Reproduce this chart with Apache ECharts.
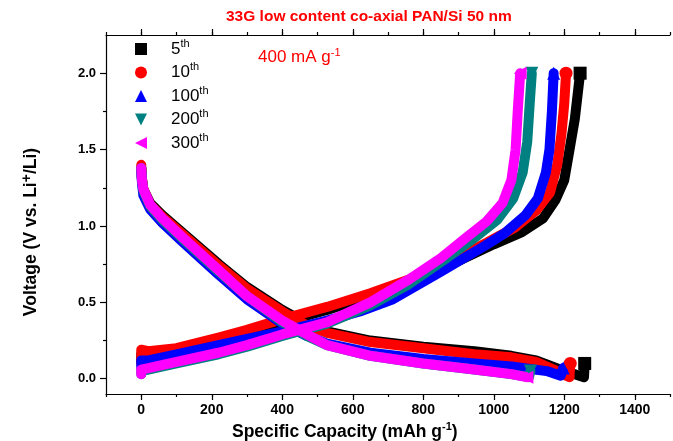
<!DOCTYPE html>
<html>
<head>
<meta charset="utf-8">
<script src="https://cdn.jsdelivr.net/npm/echarts@6/dist/echarts.min.js"></script>
<style>
html,body{margin:0;padding:0;background:#fff;}
#chart{width:673px;height:441px;}
</style>
</head>
<body>
<div id="chart"></div>
<script>
// Galvanostatic discharge / charge profiles, [capacity (mAh/g), voltage (V)]
const cycleNames = ['5th', '10th', '100th', '200th', '300th'];

const dis5 = [[0,1.38],[2,1.31],[6,1.24],[25,1.15],[60,1.07],[115,0.96],[220,0.75],[300,0.6],[400,0.45],[470,0.36],[527,0.31],[650,0.25],[800,0.21],[945,0.18],[1050,0.15],[1120,0.12],[1177,0.07],[1230,0.03],[1256,0.01],[1258,0.1]];
const dis10 = [[0,1.40],[2,1.31],[6,1.24],[25,1.14],[60,1.06],[115,0.95],[220,0.74],[300,0.59],[400,0.44],[470,0.35],[527,0.3],[650,0.24],[800,0.2],[945,0.16],[1050,0.14],[1120,0.11],[1170,0.06],[1205,0.02],[1215,0.01],[1217,0.1]];
const dis100 = [[0,1.36],[2,1.28],[6,1.2],[25,1.11],[60,1.02],[115,0.9],[220,0.68],[300,0.52],[400,0.36],[470,0.28],[527,0.23],[650,0.17],[800,0.13],[945,0.1],[1050,0.08],[1150,0.05],[1190,0.02],[1197,0.07]];
const dis200 = [[0,1.38],[2,1.3],[6,1.23],[25,1.13],[60,1.04],[115,0.92],[220,0.7],[300,0.54],[400,0.37],[470,0.28],[527,0.22],[650,0.15],[800,0.1],[945,0.06],[1050,0.03],[1100,0.01],[1104,0.05]];
const dis300 = [[0,1.38],[2,1.3],[6,1.24],[25,1.14],[60,1.05],[115,0.93],[220,0.71],[300,0.54],[400,0.38],[470,0.29],[527,0.22],[650,0.15],[800,0.1],[945,0.06],[1050,0.03],[1094,0.01]];

const ch5 = [[0,0.11],[0,0.16],[20,0.16],[100,0.18],[219,0.25],[300,0.3],[400,0.37],[527,0.45],[650,0.54],[760,0.63],[880,0.75],[1000,0.88],[1080,0.96],[1140,1.05],[1175,1.17],[1200,1.3],[1215,1.5],[1230,1.7],[1245,2.0]];
const ch10 = [[0,0.1],[0,0.19],[20,0.18],[100,0.2],[219,0.27],[300,0.32],[400,0.39],[527,0.47],[650,0.56],[760,0.65],[870,0.76],[980,0.89],[1060,0.99],[1120,1.1],[1160,1.22],[1180,1.4],[1192,1.6],[1200,1.8],[1205,2.0]];
const ch100 = [[0,0.07],[0,0.12],[20,0.12],[100,0.16],[219,0.22],[300,0.26],[400,0.31],[527,0.38],[620,0.44],[714,0.52],[850,0.7],[975,0.87],[1030,0.95],[1090,1.07],[1125,1.18],[1148,1.35],[1158,1.5],[1165,1.75],[1170,2.0]];
const ch200 = [[0,0.03],[0,0.05],[20,0.06],[100,0.1],[219,0.16],[300,0.21],[400,0.28],[527,0.36],[650,0.48],[760,0.62],[860,0.78],[950,0.93],[1010,1.04],[1055,1.18],[1082,1.35],[1095,1.55],[1102,1.8],[1108,2.0]];
const ch300 = [[0,0.03],[0,0.06],[20,0.07],[100,0.11],[219,0.17],[300,0.22],[400,0.29],[527,0.37],[650,0.5],[760,0.65],[850,0.79],[920,0.92],[980,1.03],[1025,1.15],[1050,1.3],[1062,1.5],[1068,1.75],[1075,2.0]];

const discharge = [dis5, dis10, dis100, dis200, dis300];
const charge = [ch5, ch10, ch100, ch200, ch300];

// Axis ticks
const xMajorTicks = [0, 200, 400, 600, 800, 1000, 1200, 1400];
const yMajorTicks = [0, 0.5, 1.0, 1.5, 2.0];
const yMinorTicks = [0.25, 0.75, 1.25, 1.75];

const FONT = 'Arial, "Liberation Sans", sans-serif';
const colors = ['#000000', '#FF0000', '#0000FF', '#008080', '#FF00FF'];
const symbols = ['rect', 'circle', 'triangle', 'path://M0,0L10,0L5,10Z', 'path://M10,0L10,10L0,5Z'];

const chart = echarts.init(document.getElementById('chart'), null, { renderer: 'canvas' });

const series = [];
cycleNames.forEach((name, i) => {
  [discharge[i], charge[i]].forEach(curve => {
    const last = curve.length - 1;
    series.push({
      type: 'line',
      name: name,
      data: curve,
      xAxisIndex: 0,
      yAxisIndex: 0,
      color: colors[i],
      symbol: symbols[i],
      showAllSymbol: true,
      symbolSize: (v, p) => (p.dataIndex === last ? 13 : 0),
      itemStyle: { color: colors[i] },
      lineStyle: { color: colors[i], width: 10, cap: 'round', join: 'round' },
      emphasis: { disabled: true },
      silent: true,
      animation: false
    });
  });
});

const axisLineStyle = { color: '#000', width: 1.2 };
const xRange = { min: -100, max: 1500 };
const yRange = { min: -0.1, max: 2.25 };

const option = {
  backgroundColor: '#fff',
  animation: false,
  grid: { left: 106, top: 35, width: 572.6, height: 359 },
  legend: {
    orient: 'vertical',
    left: 130,
    top: 33,
    itemWidth: 12,
    itemHeight: 12,
    itemGap: 4,
    selectedMode: false,
    data: cycleNames.map((n, i) => ({ name: n, icon: symbols[i], itemStyle: { color: colors[i] } })),
    formatter: name => {
      const m = name.match(/^(\d+)(th)$/);
      return '{g|}{n|' + m[1] + '}{s|' + m[2] + '}';
    },
    textStyle: {
      rich: {
        g: { width: 19 },
        n: { fontFamily: FONT, fontSize: 17, color: '#000', lineHeight: 22 },
        s: { fontFamily: FONT, fontSize: 11, color: '#000', verticalAlign: 'top', lineHeight: 11 }
      }
    }
  },
  xAxis: [
    {
      type: 'value', position: 'bottom', ...xRange, interval: 100,
      axisLine: { show: true, onZero: false, lineStyle: axisLineStyle },
      axisTick: { show: true, length: 3, lineStyle: axisLineStyle },
      axisLabel: {
        margin: 9, color: '#000', fontFamily: FONT, fontWeight: 'bold', fontSize: 14,
        formatter: v => (v >= 0 && v % 200 === 0 ? String(v) : '')
      },
      splitLine: { show: false }
    },
    {
      type: 'value', position: 'bottom', ...xRange,
      axisLine: { show: false, onZero: false },
      axisTick: { show: true, length: 6, customValues: xMajorTicks, lineStyle: axisLineStyle },
      axisLabel: { show: false },
      splitLine: { show: false }
    },
    {
      type: 'value', position: 'top', ...xRange, interval: 100,
      axisLine: { show: true, onZero: false, lineStyle: axisLineStyle },
      axisTick: { show: true, length: 3, lineStyle: axisLineStyle },
      axisLabel: { show: false },
      splitLine: { show: false }
    },
    {
      type: 'value', position: 'top', ...xRange,
      axisLine: { show: false, onZero: false },
      axisTick: { show: true, length: 6, customValues: xMajorTicks, lineStyle: axisLineStyle },
      axisLabel: { show: false },
      splitLine: { show: false }
    }
  ],
  yAxis: [
    {
      type: 'value', position: 'left', ...yRange,
      axisLine: { show: true, onZero: false, lineStyle: axisLineStyle },
      axisTick: { show: true, length: 6, customValues: yMajorTicks, lineStyle: axisLineStyle },
      axisLabel: {
        customValues: yMajorTicks, margin: 10, color: '#000', fontFamily: FONT,
        fontWeight: 'bold', fontSize: 13, formatter: v => v.toFixed(1)
      },
      splitLine: { show: false }
    },
    {
      type: 'value', position: 'left', ...yRange,
      axisLine: { show: false, onZero: false },
      axisTick: { show: true, length: 3, customValues: yMinorTicks, lineStyle: axisLineStyle },
      axisLabel: { show: false },
      splitLine: { show: false }
    }
  ],
  graphic: [
    {
      type: 'text', left: 226, top: 9,
      style: { text: '33G low content co-axial PAN/Si 50 nm', fill: '#FF0000', font: 'bold 15.5px ' + FONT }
    },
    {
      type: 'text', left: 258, top: 47,
      style: {
        text: '{a|400 mA g}{b|-1}',
        rich: {
          a: { fill: '#FF0000', fontSize: 17, fontFamily: FONT, lineHeight: 20 },
          b: { fill: '#FF0000', fontSize: 11, fontFamily: FONT, verticalAlign: 'top', lineHeight: 11 }
        }
      }
    },
    {
      type: 'text', left: 232, top: 421,
      style: {
        text: '{a|Specific Capacity (mAh g}{b|-1}{a|)}',
        rich: {
          a: { fill: '#000', fontSize: 17.5, fontWeight: 'bold', fontFamily: FONT, lineHeight: 22 },
          b: { fill: '#000', fontSize: 11, fontWeight: 'bold', fontFamily: FONT, verticalAlign: 'top', lineHeight: 10 }
        }
      }
    },
    {
      type: 'text', x: 31, y: 232, rotation: Math.PI / 2,
      style: {
        text: '{a|Voltage (V vs. Li}{b|+}{a|/Li)}',
        align: 'center', verticalAlign: 'middle',
        rich: {
          a: { fill: '#000', fontSize: 17.5, fontWeight: 'bold', fontFamily: FONT, lineHeight: 22 },
          b: { fill: '#000', fontSize: 14, fontWeight: 'bold', fontFamily: FONT, verticalAlign: 'top', lineHeight: 8 }
        }
      }
    }
  ],
  series: series
};

chart.setOption(option);
</script>
</body>
</html>
